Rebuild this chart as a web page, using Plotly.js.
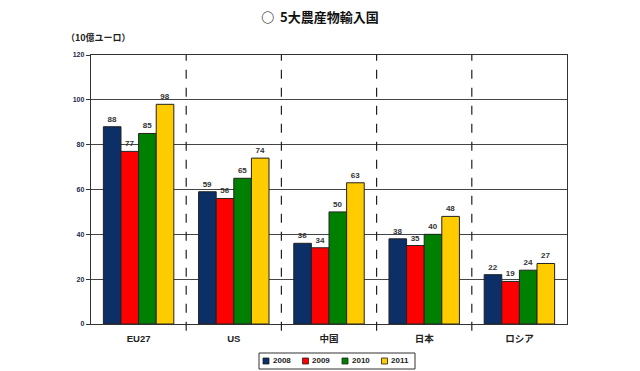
<!DOCTYPE html>
<html><head><meta charset="utf-8">
<script src="https://cdn.plot.ly/plotly-3.0.1.min.js"></script>
<style>html,body{margin:0;padding:0;background:#fff}#c{width:640px;height:371px}</style>
</head><body><div id="c"></div>
<script>
const categories = ["EU27", "US", "中国", "日本", "ロシア"];
const years = ["2008", "2009", "2010", "2011"];
const v2008 = [88, 59, 36, 38, 22];
const v2009 = [77, 56, 34, 35, 19];
const v2010 = [85, 65, 50, 40, 24];
const v2011 = [98, 74, 63, 48, 27];
const yTicks = [0, 20, 40, 60, 80, 100, 120];

const series = [v2008, v2009, v2010, v2011];
const colors = ["#0b2f66", "#ff0000", "#008000", "#ffcc00"];
const baseFont = "Liberation Sans, Arial, Noto Sans CJK JP, sans-serif";

const M = {l: 91, r: 73, t: 55, b: 47};
const W = 640, H = 371;
const pw = W - M.l - M.r, ph = H - M.t - M.b;
const px = x => (x - M.l) / pw;
const py = y => (H - M.b - y) / ph;

const labelFont = {family: baseFont, size: 8, color: "#333", weight: "bold"};
const traces = series.map((vals, i) => ({
  type: "bar",
  name: years[i],
  x: categories,
  y: vals,
  text: vals.map(String),
  textposition: "outside",
  cliponaxis: false,
  showlegend: false,
  textfont: labelFont,
  outsidetextfont: labelFont,
  marker: {color: colors[i], line: {color: "#222", width: 1}}
}));

const shapes = [];
for (let k = 0; k < categories.length - 1; k++) {
  shapes.push({type: "line", xref: "x", yref: "paper", x0: k + 0.5, x1: k + 0.5, y0: -0.025, y1: 1,
    line: {color: "#222", width: 1.2, dash: "dash"}});
}
// custom compact legend (box, swatches, labels)
shapes.push({type: "rect", xref: "paper", yref: "paper", x0: px(259), x1: px(415), y0: py(369), y1: py(353),
  line: {color: "#333", width: 1}, fillcolor: "rgba(0,0,0,0)"});
const annotations = [{text: "（10億ユーロ）", xref: "paper", yref: "paper", x: px(64), y: py(37),
  xanchor: "left", yanchor: "middle", showarrow: false,
  font: {family: "Noto Sans CJK JP, sans-serif", size: 9, color: "#222", weight: "bold"}}];
years.forEach((yr, i) => {
  const x0 = 263 + i * 39.5;
  shapes.push({type: "rect", xref: "paper", yref: "paper", x0: px(x0), x1: px(x0 + 6), y0: py(364), y1: py(358),
    line: {color: "#222", width: 0.8}, fillcolor: colors[i]});
  annotations.push({text: yr, xref: "paper", yref: "paper", x: px(x0 + 7.5), y: py(361), xanchor: "left",
    yanchor: "middle", showarrow: false, font: {family: baseFont, size: 8, color: "#222", weight: "bold"}});
});

const layout = {
  width: W, height: H,
  margin: M,
  paper_bgcolor: "#fff", plot_bgcolor: "#fff",
  barmode: "group", bargap: 0.26, bargroupgap: 0,
  showlegend: false,
  font: {family: baseFont, size: 9, color: "#222"},
  title: {text: "○  5大農産物輸入国", x: 0.5, xref: "container", y: 0.953, yanchor: "middle",
    font: {family: "Noto Sans CJK JP, sans-serif", size: 13, color: "#111", weight: "bold"}},
  xaxis: {showline: true, linecolor: "#333", linewidth: 1.2, mirror: true, ticks: "", ticklabelstandoff: 5,
    tickfont: {family: "Liberation Sans, Noto Sans CJK JP, sans-serif", size: 9.5, color: "#222", weight: "bold"},
    showgrid: false, fixedrange: true, automargin: false},
  yaxis: {range: [0, 120], tickvals: yTicks, ticktext: yTicks.map(String), showline: true, mirror: true,
    linecolor: "#333", linewidth: 1.2, ticks: "outside", ticklen: 4, tickcolor: "#333",
    showgrid: true, gridcolor: "#444", gridwidth: 1, zeroline: false, automargin: false,
    tickfont: {family: baseFont, size: 7, color: "#1c2a4a", weight: "bold"}, fixedrange: true},
  shapes: shapes,
  annotations: annotations
};

Plotly.newPlot("c", traces, layout, {displayModeBar: false, staticPlot: true});
</script></body></html>
